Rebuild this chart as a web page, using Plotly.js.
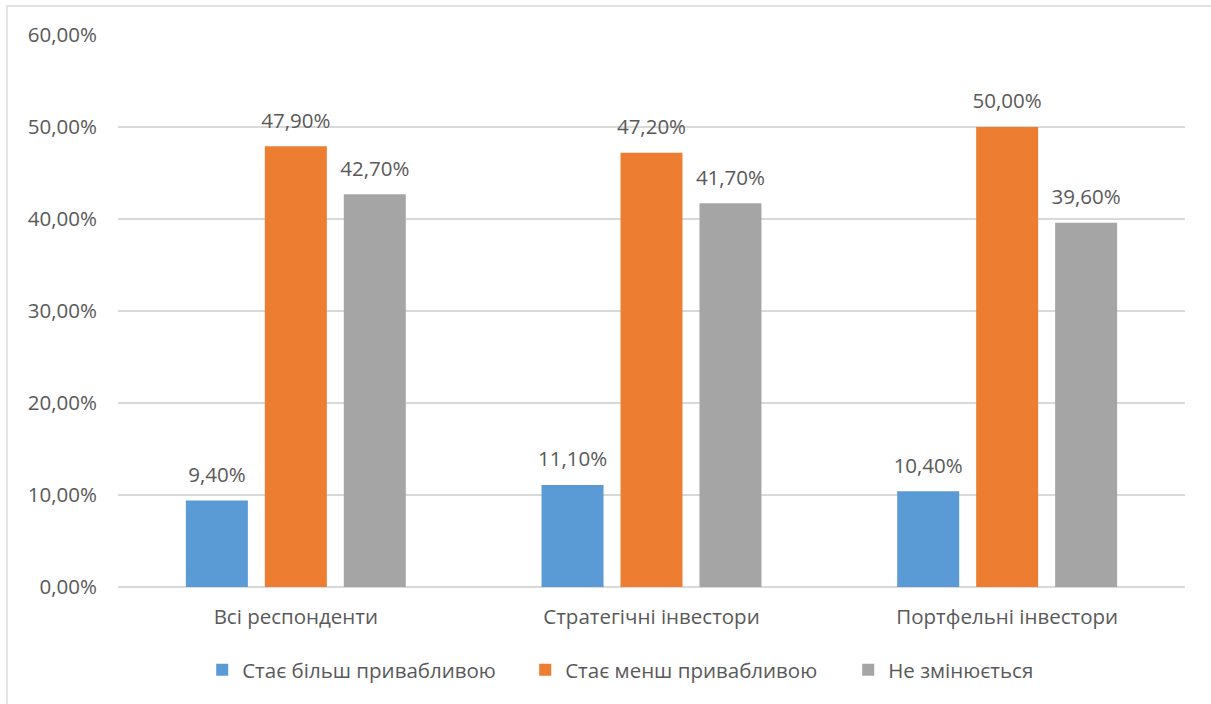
<!DOCTYPE html>
<html>
<head>
<meta charset="utf-8">
<script src="https://cdn.plot.ly/plotly-3.0.1.min.js"></script>
<style>html,body{margin:0;padding:0;background:#fff;}#chart{width:1211px;height:704px;}</style>
</head>
<body>
<div id="chart"></div>
<script>
const categories = ["Всі респонденти", "Стратегічні інвестори", "Портфельні інвестори"];
const seriesNames = ["Стає більш привабливою", "Стає менш привабливою", "Не змінюється"];
const moreAttractive = [9.4, 11.1, 10.4];
const lessAttractive = [47.9, 47.2, 50.0];
const unchanged = [42.7, 41.7, 39.6];
const yTickVals = [0, 10, 20, 30, 40, 50, 60];
const yTickText = ["0,00%", "10,00%", "20,00%", "30,00%", "40,00%", "50,00%", "60,00%"];

const colors = ["#5B9BD5", "#ED7D31", "#A5A5A5"];
const seriesValues = [moreAttractive, lessAttractive, unchanged];
const FONT = "Open Sans, Noto Sans, sans-serif";
const TXT = "#595959";
const FS = 20.5;

const traces = [];
seriesValues.forEach((vals, i) => {
  traces.push({
    type: "bar", x: categories, y: vals, name: seriesNames[i],
    marker: {color: colors[i]}, offsetgroup: "g" + i,
    hoverinfo: "skip"
  });
});
seriesValues.forEach((vals, i) => {
  traces.push({
    type: "scatter", mode: "markers+text", x: categories, y: vals,
    text: vals.map(v => v.toFixed(2).replace(".", ",") + "%"),
    textposition: "top center",
    textfont: {family: FONT, size: FS, color: TXT},
    marker: {size: 20, opacity: 0, color: colors[i]},
    offsetgroup: "g" + i, showlegend: false, hoverinfo: "skip", cliponaxis: false
  });
});

const layout = {
  width: 1211, height: 704,
  margin: {l: 118, r: 26, t: 35, b: 117},
  paper_bgcolor: "#fff", plot_bgcolor: "#fff",
  font: {family: FONT, size: FS, color: TXT},
  barmode: "group", bargap: 0.334, bargroupgap: 0.215,
  scattermode: "group", scattergap: 0.334,
  hovermode: false,
  showlegend: true,
  xaxis: {
    type: "category", showgrid: false, zeroline: false, showline: false, ticks: "",
    ticklabelstandoff: 15, tickfont: {family: FONT, size: FS, color: TXT}
  },
  yaxis: {
    range: [0, 60], tickvals: yTickVals, ticktext: yTickText,
    showgrid: true, gridcolor: "#D9D9D9", gridwidth: 1.3, zeroline: true, zerolinecolor: "#D9D9D9", zerolinewidth: 1.3,
    showline: false, ticks: "", ticklabelstandoff: 20,
    tickfont: {family: FONT, size: FS, color: TXT}
  },
  legend: {
    orientation: "h", x: 0.533, xanchor: "center", y: -0.15, yanchor: "middle",
    font: {family: FONT, size: FS, color: TXT}, traceorder: "normal",
    entrywidth: 278, itemwidth: 30
  },
  shapes: [{
    type: "rect", xref: "paper", yref: "paper",
    x0: -0.104, x1: 1.2, y0: -0.35, y1: 1.0525,
    line: {color: "#D9D9D9", width: 1.3}, fillcolor: "rgba(0,0,0,0)", layer: "below"
  }]
};

Plotly.newPlot("chart", traces, layout, {displayModeBar: false, staticPlot: true});
</script>
</body>
</html>
